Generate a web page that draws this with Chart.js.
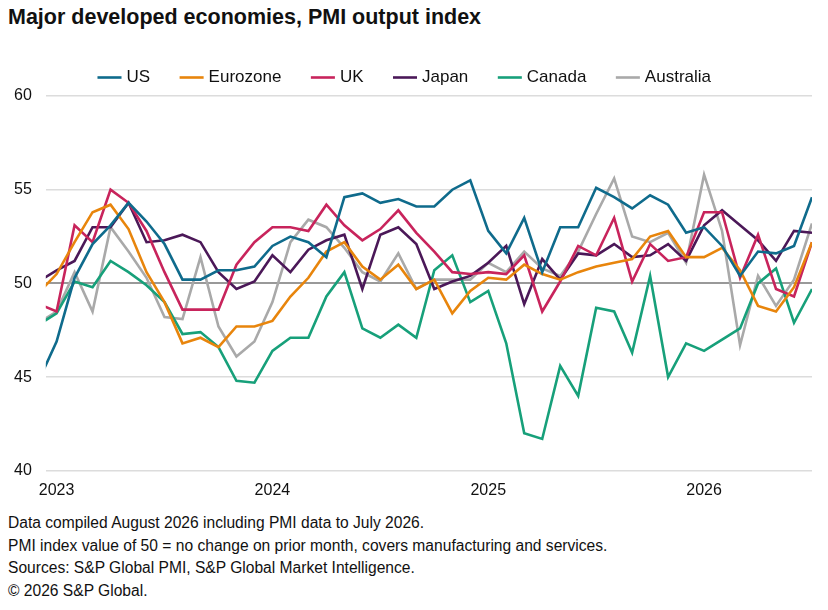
<!DOCTYPE html>
<html>
<head>
<meta charset="utf-8">
<script src="https://cdn.jsdelivr.net/npm/chart.js@4"></script>
<style>
  body { margin: 0; width: 828px; height: 610px; font-family: "Liberation Sans", Arial, sans-serif; background: #fff; color: #111; overflow: hidden; }
  #title { position: absolute; left: 8px; top: 5px; font-size: 21.5px; font-weight: bold; }
  #wrap { position: absolute; left: 0; top: 36px; width: 828px; height: 466px; }
  #notes { position: absolute; left: 8px; top: 512px; font-size: 15.6px; line-height: 22.5px; }
</style>
</head>
<body>
<div id="title">Major developed economies, PMI output index</div>
<div id="wrap"><canvas id="pmi-chart"></canvas></div>
<div id="notes">
  Data compiled August 2026 including PMI data to July 2026.<br>
  PMI index value of 50 = no change on prior month, covers manufacturing and services.<br>
  Sources: S&amp;P Global PMI, S&amp;P Global Market Intelligence.<br>
  © 2026 S&amp;P Global.
</div>
<script>
  // monthly, Dec 2022 .. Jul 2026
  const usData = [44.8, 46.9, 50.3, 52.1, 53.1, 54.3, 53.3, 52.1, 50.2, 50.2, 50.7, 50.7, 50.9, 52.0, 52.5, 52.2, 51.4, 54.6, 54.8, 54.3, 54.5, 54.1,
    54.1, 55.0, 55.5, 52.8, 51.6, 53.5, 50.6, 53.0, 53.0, 55.1, 54.6, 54.0, 54.7, 54.2, 52.7, 53.0, 52.0, 50.4, 51.7, 51.6, 52.0, 54.6];
  const ezData = [49.5, 50.5, 52.2, 53.8, 54.2, 52.9, 50.6, 49.0, 46.8, 47.1, 46.6, 47.7, 47.7, 48.0, 49.3, 50.3, 51.7, 52.2, 50.9, 50.2, 51.0, 49.7,
    50.2, 48.4, 49.6, 50.3, 50.2, 51.0, 50.5, 50.2, 50.6, 50.9, 51.1, 51.3, 52.5, 52.8, 51.4, 51.4, 51.9, 50.7, 48.8, 48.5, 49.8, 52.2];
  const ukData = [48.9, 48.5, 53.1, 52.2, 55.0, 54.3, 52.8, 50.6, 48.6, 48.6, 48.6, 51.0, 52.2, 53.0, 53.0, 52.8, 54.2, 53.1, 52.3, 52.9, 53.9, 52.7,
    51.7, 50.6, 50.5, 50.6, 50.5, 51.5, 48.5, 50.1, 52.0, 51.5, 53.5, 50.1, 52.1, 51.2, 51.4, 53.8, 53.8, 50.3, 52.6, 49.7, 49.3, 52.2];
  const jpData = [50.1, 50.7, 51.2, 53.0, 53.0, 54.3, 52.2, 52.3, 52.6, 52.2, 50.6, 49.7, 50.1, 51.5, 50.6, 51.8, 52.3, 52.6, 49.7, 52.6, 53.0, 52.1,
    49.7, 50.1, 50.4, 51.1, 52.0, 48.9, 51.3, 50.2, 51.6, 51.5, 52.1, 51.4, 51.5, 52.1, 51.2, 53.1, 53.9, 53.1, 52.3, 51.2, 52.8, 52.7];
  const caData = [47.8, 48.4, 50.1, 49.8, 51.2, 50.6, 49.9, 49.0, 47.3, 47.4, 46.6, 44.8, 44.7, 46.4, 47.1, 47.1, 49.3, 50.6, 47.6, 47.1, 47.8, 47.1,
    50.7, 51.5, 49.0, 49.6, 46.8, 42.0, 41.7, 45.6, 44.0, 48.7, 48.5, 46.3, 50.4, 45.0, 46.8, 46.4, 47.0, 47.6, 50.0, 50.8, 47.9, 49.7];
  const auData = [47.9, 48.5, 50.6, 48.5, 53.0, 51.7, 50.3, 48.2, 48.1, 51.4, 47.7, 46.1, 46.9, 49.0, 52.2, 53.4, 53.0, 51.9, 50.6, 50.1, 51.6, 49.7,
    50.2, 50.2, 50.2, 51.1, 50.6, 51.7, 50.8, 50.4, 51.7, 53.7, 55.6, 52.5, 52.2, 52.7, 51.1, 55.8, 52.8, 46.7, 50.4, 48.8, 50.2, 53.2];
  const yearTicks = { 1: '2023', 13: '2024', 25: '2025', 37: '2026' };

  const series = [
    { label: 'US', data: usData, color: '#0f6b8c' },
    { label: 'Eurozone', data: ezData, color: '#e8850c' },
    { label: 'UK', data: ukData, color: '#c8245c' },
    { label: 'Japan', data: jpData, color: '#4b1858' },
    { label: 'Canada', data: caData, color: '#17a07a' },
    { label: 'Australia', data: auData, color: '#a9a9a9' }
  ];

  const ctx = document.getElementById('pmi-chart').getContext('2d');
  new Chart(ctx, {
    type: 'line',
    data: {
      datasets: series.map(s => ({
        label: s.label,
        data: s.data.map((v, i) => ({ x: i, y: v })),
        borderColor: s.color,
        backgroundColor: s.color,
        borderWidth: 2.6,
        pointRadius: 0,
        tension: 0,
        fill: false
      }))
    },
    options: {
      responsive: true,
      maintainAspectRatio: false,
      animation: false,
      layout: { padding: { left: 0, right: 16, top: 0, bottom: 0 } },
      plugins: {
        tooltip: { enabled: false },
        legend: {
          position: 'top',
          align: 'center',
          labels: {
            usePointStyle: true,
            pointStyle: 'line',
            boxWidth: 38,
            padding: 33,
            color: '#111',
            font: { family: 'Liberation Sans', size: 17 }
          }
        }
      },
      scales: {
        x: {
          type: 'linear',
          min: 0.4,
          max: 43,
          grid: { display: false },
          border: { display: false },
          afterBuildTicks: axis => { axis.ticks = Object.keys(yearTicks).map(k => ({ value: +k })); },
          ticks: {
            autoSkip: false,
            maxRotation: 0,
            padding: 2,
            color: '#111',
            font: { family: 'Liberation Sans', size: 16 },
            callback: v => yearTicks[v] || ''
          }
        },
        y: {
          min: 40,
          max: 60,
          border: { display: false },
          grid: {
            color: ctx => ctx.tick.value === 50 ? '#999' : '#dcdcdc',
            lineWidth: ctx => ctx.tick.value === 50 ? 2 : 1.5,
            drawTicks: false
          },
          ticks: {
            stepSize: 5,
            padding: 14,
            color: '#111',
            font: { family: 'Liberation Sans', size: 16 }
          }
        }
      }
    }
  });
</script>
</body>
</html>
